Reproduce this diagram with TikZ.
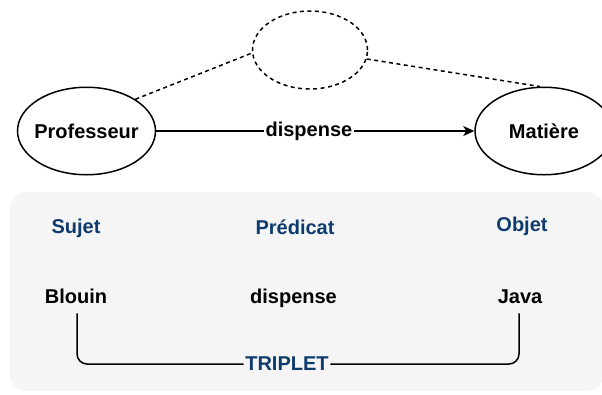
\documentclass[tikz,border=0pt]{standalone}
\usepackage{fontspec}
\setmainfont{Liberation Sans}
\usetikzlibrary{shapes.geometric,arrows.meta}
\definecolor{boxgray}{HTML}{F5F5F5}
\definecolor{titleblue}{HTML}{0E3B6E}
\begin{document}
\begin{tikzpicture}[x=1pt,y=-1pt,
  font=\fontsize{20}{24}\selectfont\bfseries,
  ent/.style={ellipse,draw=black,line width=1.5pt,fill=white,inner ysep=0pt,inner xsep=-10pt,
    minimum width=138pt,minimum height=87.5pt},
  ghost/.style={ellipse,draw=black,line width=1.5pt,dash pattern=on 4pt off 3.5pt,
    inner sep=0pt,minimum width=115pt,minimum height=78pt},
  dashline/.style={line width=1.5pt,dash pattern=on 4pt off 3.5pt},
  conn/.style={line width=1.5pt},
  lbl/.style={inner sep=0pt,anchor=base,text=black},
  ttl/.style={inner sep=0pt,anchor=base,text=titleblue},
  edgelbl/.style={fill=white,inner sep=1.5pt,text=black}]
\useasboundingbox (0,0) rectangle (602,394);
\fill[boxgray,rounded corners=17pt] (10,192) rectangle (604,391);

\node[ent] (prof) at (86.5,131) {Professeur};
\node[ent] (mat) at (544,131) {Matière};
\node[ghost] (dc) at (310,50) {};

\draw[dashline] (prof.33) -- (dc.183);
\draw[dashline] (dc.-9) -- (mat.95);
\draw[conn,-{Stealth[length=11pt,width=10pt,inset=3pt]}] (prof) -- node[edgelbl,pos=0.48] {dispense} (mat);

\node[ttl] (sujet) at (76,233) {Sujet};
\node[ttl] (pred) at (295,234) {Prédicat};
\node[ttl] (objet) at (522,231) {Objet};

\node[lbl] (blouin) at (76,303.5) {Blouin};
\node[lbl] (disp) at (293.5,303) {dispense};
\node[lbl] (java) at (520,303.5) {Java};

\node[fill=boxgray,inner sep=1.5pt,text=titleblue] (trip) at (287,364) {TRIPLET};
\draw[conn,rounded corners=10pt] ([xshift=1pt,yshift=-9.5pt]blouin.south) |- (trip.west);
\draw[conn,rounded corners=10pt] (trip.east) -| ([xshift=-1pt,yshift=-9.5pt]java.south);
\end{tikzpicture}
\end{document}
